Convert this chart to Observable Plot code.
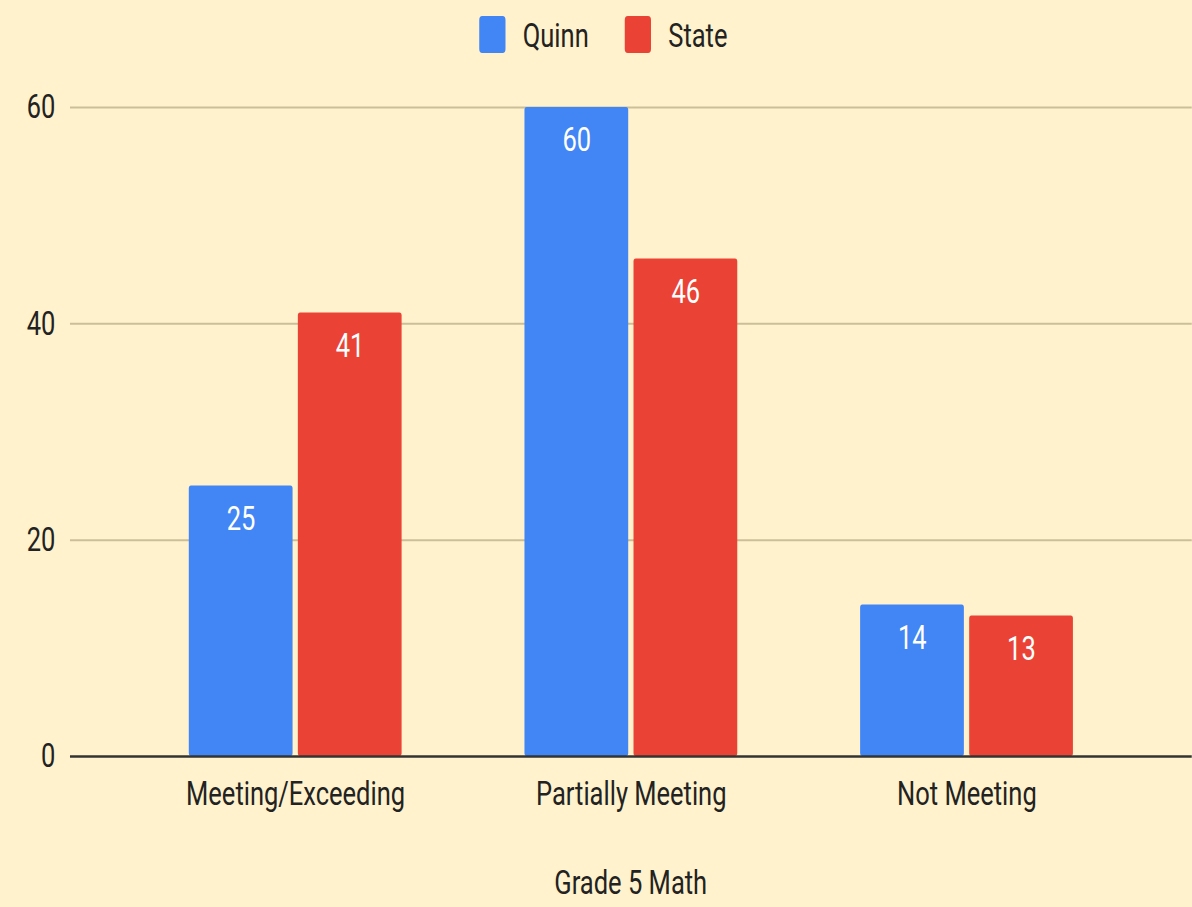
<!DOCTYPE html>
<html>
<head>
<meta charset="utf-8">
<script src="https://cdn.jsdelivr.net/npm/d3@7"></script>
<script src="https://cdn.jsdelivr.net/npm/@observablehq/plot@0.6"></script>
<style>
  html, body { margin: 0; padding: 0; background: #FFF2CC; overflow: hidden; }
  #wrap { position: relative; width: 1590px; height: 907px; transform: scaleX(0.75); transform-origin: 0 0; background: #FFF2CC; font-family: Roboto, sans-serif; color: #222; }
  .sw { position: absolute; width: 35px; height: 37px; border-radius: 4px; top: 16px; }
  .lt { position: absolute; font-size: 34px; line-height: 40px; top: 15px; white-space: nowrap; }
  #chart { position: absolute; left: 0; top: 70px; }
  #caption { position: absolute; left: 93px; width: 1496px; top: 862px; text-align: center; font-size: 34px; line-height: 40px; }
</style>
</head>
<body>
<div id="wrap">
  <div id="legend"></div>
  <div id="chart"></div>
  <div id="caption"></div>
</div>
<script>
const categories = ["Meeting/Exceeding", "Partially Meeting", "Not Meeting"];
const series = ["Quinn", "State"];
const quinn = [25, 60, 14];
const state = [41, 46, 13];
const yTicks = [0, 20, 40, 60];
const colors = ["#4285F4", "#EA4335"];
const xTitle = "Grade 5 Math";

const quinnRows = categories.map((c, i) => ({category: c, series: series[0], value: quinn[i]}));
const stateRows = categories.map((c, i) => ({category: c, series: series[1], value: state[i]}));

// legend
const legend = document.getElementById("legend");
const legendPos = [{sw: 639, tx: 697}, {sw: 833, tx: 891}];
series.forEach((s, i) => {
  const sw = document.createElement("div");
  sw.className = "sw";
  sw.style.left = legendPos[i].sw + "px";
  sw.style.background = colors[i];
  legend.appendChild(sw);
  const t = document.createElement("div");
  t.className = "lt";
  t.style.left = legendPos[i].tx + "px";
  t.textContent = s;
  legend.appendChild(t);
});

document.getElementById("caption").textContent = xTitle;

const barInset = 145.4;
const labelShift = 72.7;

const plot = Plot.plot({
  width: 1589,
  height: 770,
  marginLeft: 93.3,
  marginRight: 0,
  marginTop: 37,
  marginBottom: 84,
  style: {background: "transparent", fontFamily: "Roboto, sans-serif", fontSize: "34px", color: "#222", overflow: "visible"},
  x: {domain: categories, paddingInner: 0.366, paddingOuter: 0.354, round: false},
  y: {domain: [0, 60]},
  color: {domain: series, range: colors},
  marks: [
    Plot.gridY(yTicks.filter(d => d > 0), {stroke: "#cbbf99", strokeOpacity: 1, strokeWidth: 2}),
    Plot.axisY(yTicks, {tickSize: 0, tickPadding: 20, label: null, fontSize: 34}),
    Plot.axisX({tickSize: 0, tickPadding: 24, label: null, fontSize: 34}),
    Plot.barY(quinnRows, {x: "category", y: "value", fill: "series", insetRight: barInset, rx: 3}),
    Plot.barY(stateRows, {x: "category", y: "value", fill: "series", insetLeft: barInset, rx: 3}),
    Plot.ruleY([0], {stroke: "#333", strokeWidth: 2.5}),
    Plot.text(quinnRows, {x: "category", y: "value", text: d => String(d.value), dx: -labelShift, dy: 33, fill: "white", fontSize: 34}),
    Plot.text(stateRows, {x: "category", y: "value", text: d => String(d.value), dx: labelShift, dy: 33, fill: "white", fontSize: 34})
  ]
});
document.getElementById("chart").appendChild(plot);
</script>
</body>
</html>
